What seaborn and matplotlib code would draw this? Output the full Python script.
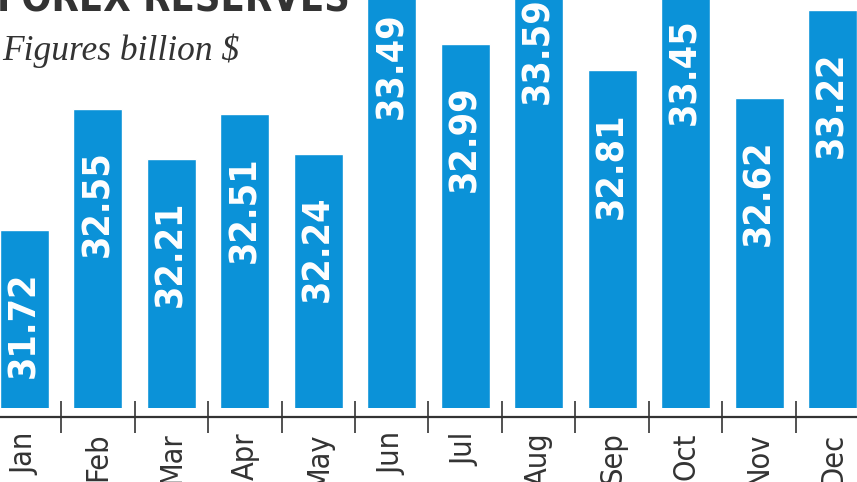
import matplotlib
matplotlib.use('Agg')

import numpy as np
import pandas as pd
import seaborn as sns
import matplotlib.pyplot as plt

months = ['Jan', 'Feb', 'Mar', 'Apr', 'May', 'Jun',
          'Jul', 'Aug', 'Sep', 'Oct', 'Nov', 'Dec']
reserves = [31.72, 32.55, 32.21, 32.51, 32.24, 33.49,
            32.99, 33.59, 32.81, 33.45, 32.62, 33.22]

df = pd.DataFrame({'month': months, 'reserves': reserves})

sns.set_theme(style='white')
plt.rcParams['font.family'] = ['DejaVu Sans']
plt.rcParams['font.stretch'] = 'condensed'

bar_color = '#0b92d8'
ink = '#333333'

fig = plt.figure(figsize=(8.57, 4.82), dpi=100)
ax = fig.add_axes([0, 1 - 408 / 482, 1, 408 / 482])

sns.barplot(data=df, x='month', y='reserves', color=bar_color,
            saturation=1, width=0.667, ax=ax)

ax.set_ylim(30.51, 33.29)
ax.set_xlim(-0.3335, 11.3335)
ax.set_xlabel('')
ax.set_ylabel('')
ax.set_yticks([])

for s in ['top', 'left', 'right']:
    ax.spines[s].set_visible(False)
ax.spines['bottom'].set_position(('outward', 6.5))
ax.spines['bottom'].set_color(ink)
ax.spines['bottom'].set_linewidth(1.6)

# month labels under the bars, separators between them
ax.set_xticks(range(len(months)))
ax.set_xticklabels(months, rotation=90, fontsize=22, color=ink,
                   fontstretch='condensed')
ax.tick_params(axis='x', which='both', bottom=True)
ax.tick_params(axis='x', which='major', length=0, pad=11)
ax.set_xticks(np.arange(0.5, 11, 1), minor=True)
ax.tick_params(axis='x', which='minor', direction='inout', length=23,
               width=1.2, color=ink)

for i, v in enumerate(reserves):
    ax.annotate(f'{v:.2f}', xy=(i, v), xytext=(0, -30),
                textcoords='offset points', ha='center', va='top',
                rotation=90, color='white', fontsize=27, fontweight='bold',
                fontstretch='condensed',
                annotation_clip=False, clip_on=False)

fig.text(-0.004, 1 - 12 / 482, 'FOREX RESERVES', fontsize=28.5,
         fontweight='bold', fontstretch='condensed', color=ink,
         ha='left', va='baseline')
fig.text(0.002, 1 - 60 / 482, 'Figures billion $', fontsize=25.5,
         style='italic', color=ink, ha='left', va='baseline',
         family=['Liberation Serif', 'DejaVu Serif'])

plt.savefig('out.png', dpi=100)
plt.close(fig)
